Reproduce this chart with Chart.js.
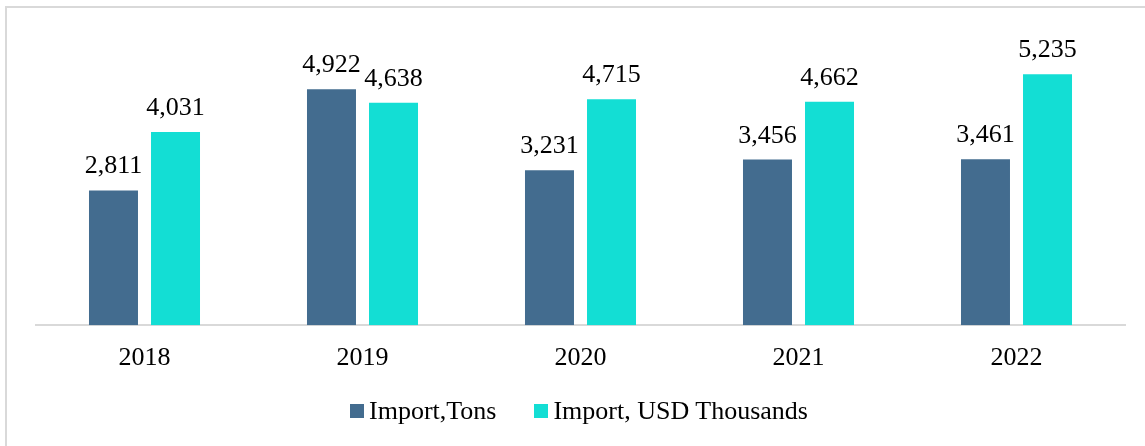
<!DOCTYPE html>
<html>
<head>
<meta charset="utf-8">
<script src="https://cdn.jsdelivr.net/npm/chart.js@4/dist/chart.umd.min.js"></script>
<style>
    html, body { margin: 0; padding: 0; background: #fff; overflow: hidden; }
    body { width: 1145px; height: 446px; position: relative; }
    .moldura {
        position: absolute; left: 5px; top: 6px; width: 1200px; height: 500px;
        border: 2px solid #d9d9d9; box-sizing: border-box;
    }
    .grafico { position: absolute; left: 0; top: 0; width: 1145px; height: 446px; }
    .legenda {
        position: absolute; left: 350px; top: 396px; height: 30px;
        display: flex; align-items: center;
        font-family: "Liberation Serif", "Times New Roman", serif; font-size: 26px;
        line-height: 30px; color: #000; white-space: nowrap;
    }
    .legenda .caixa { width: 14px; height: 14px; margin-right: 5px; }
    .legenda .item { display: flex; align-items: center; margin-right: 38px; }
</style>
</head>
<body>
<div class="moldura"></div>
<div class="grafico"><canvas id="grafico"></canvas></div>
<div class="legenda" id="legenda"></div>

<script>
// ---------------------
// Dados
// ---------------------
const YEARS = ['2018', '2019', '2020', '2021', '2022'];
const IMPORT_TONS = [2811, 4922, 3231, 3456, 3461];
const IMPORT_USD = [4031, 4638, 4715, 4662, 5235];

const SERIES_LABELS = ['Import,Tons', 'Import, USD Thousands'];
const SERIES_COLORS = ['#436c8f', '#13ded4'];

const FONT_FAMILY = '"Liberation Serif", "Times New Roman", serif';

// ---------------------
// Rótulos dos valores
// ---------------------
const valueLabels = {
    id: 'valueLabels',
    afterDatasetsDraw(chart) {
        const ctx = chart.ctx;
        ctx.save();
        ctx.font = `26px ${FONT_FAMILY}`;
        ctx.fillStyle = '#000';
        ctx.textAlign = 'center';
        ctx.textBaseline = 'alphabetic';
        chart.data.datasets.forEach((ds, i) => {
            chart.getDatasetMeta(i).data.forEach((bar, j) => {
                ctx.fillText(ds.data[j].toLocaleString('en-US'), bar.x, bar.y - 17);
            });
        });
        ctx.restore();
    }
};

// ---------------------
// Gráfico
// ---------------------
new Chart(document.getElementById('grafico'), {
    type: 'bar',
    data: {
        labels: YEARS,
        datasets: [
            { label: SERIES_LABELS[0], data: IMPORT_TONS, backgroundColor: SERIES_COLORS[0] },
            { label: SERIES_LABELS[1], data: IMPORT_USD, backgroundColor: SERIES_COLORS[1] }
        ]
    },
    options: {
        responsive: true,
        maintainAspectRatio: false,
        animation: false,
        datasets: {
            bar: { categoryPercentage: 0.569, barPercentage: 0.79 }
        },
        layout: { padding: { left: 35.5, right: 19.5, top: 37.5, bottom: 62.5 } },
        plugins: {
            legend: { display: false },
            tooltip: { enabled: false }
        },
        scales: {
            x: {
                grid: { display: false },
                border: { color: '#d9d9d9', width: 2 },
                ticks: {
                    color: '#000',
                    padding: 9.5,
                    font: { family: FONT_FAMILY, size: 26 }
                }
            },
            y: {
                display: false,
                min: 0,
                max: 6000
            }
        }
    },
    plugins: [valueLabels]
});

// ---------------------
// Legenda
// ---------------------
const legenda = document.getElementById('legenda');
SERIES_LABELS.forEach((nome, i) => {
    const item = document.createElement('div');
    item.className = 'item';
    const caixa = document.createElement('div');
    caixa.className = 'caixa';
    caixa.style.background = SERIES_COLORS[i];
    const texto = document.createElement('span');
    texto.textContent = nome;
    item.appendChild(caixa);
    item.appendChild(texto);
    legenda.appendChild(item);
});
</script>
</body>
</html>
